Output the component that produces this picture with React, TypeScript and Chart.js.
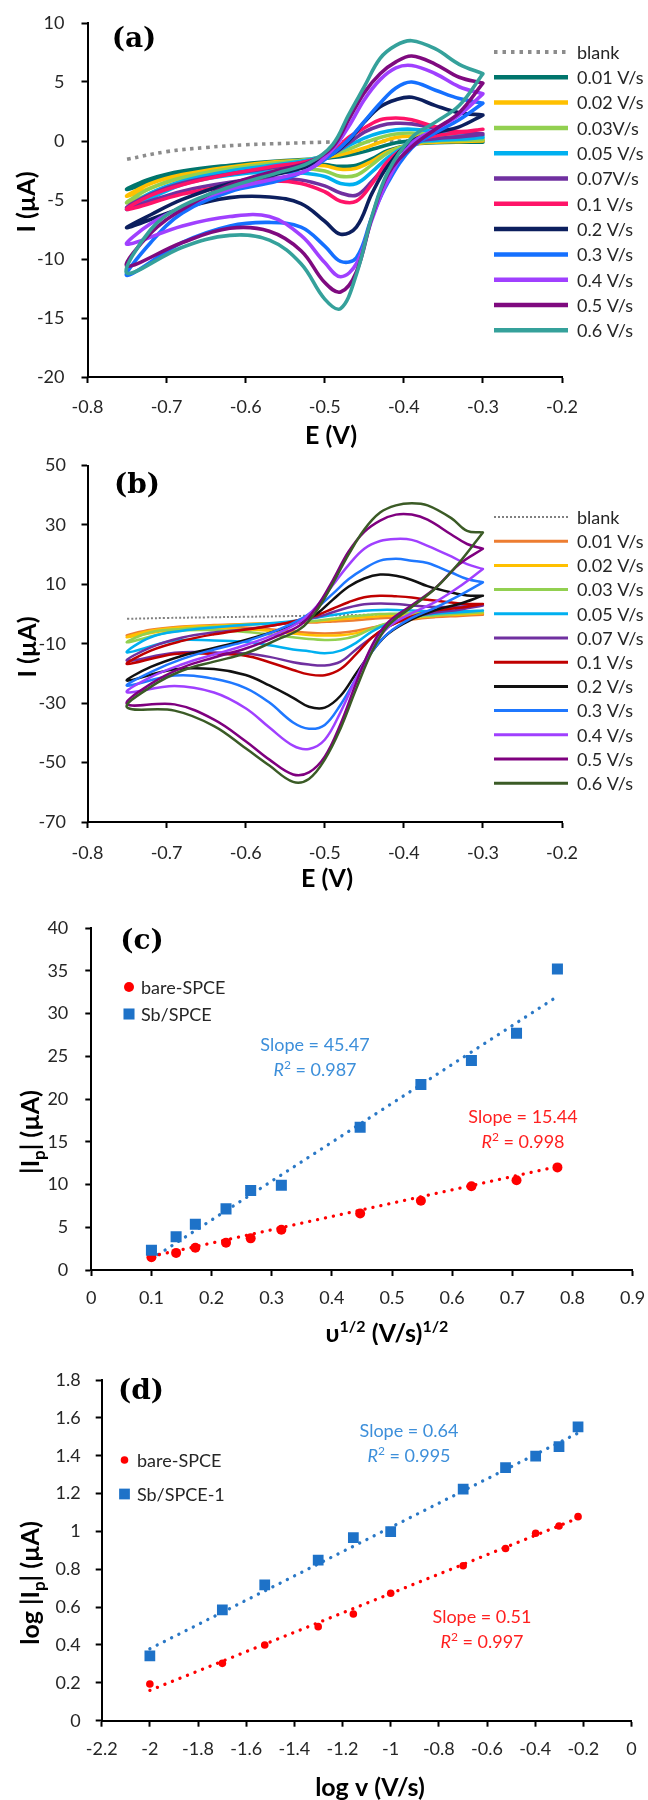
import React, { useEffect, useRef } from "react";
import { Chart, registerables } from "chart.js";

Chart.register(...registerables);

const FONT = "Lato, 'Open Sans', 'DejaVu Sans', sans-serif";
const SERIF = "'DejaVu Serif', 'Liberation Serif', serif";
const INK = "#262626";

/* ================= (a) CVs, bare-SPCE ================= */
// potential path: cathodic sweep -0.30 -> -0.75 V, then anodic sweep back to -0.30 V
const E_A = [-0.30, -0.33, -0.36, -0.39, -0.42, -0.44, -0.46, -0.48, -0.50, -0.53, -0.57, -0.62, -0.68, -0.75,
  -0.72, -0.68, -0.62, -0.56, -0.52, -0.49, -0.47, -0.45, -0.43, -0.41, -0.39, -0.36, -0.33, -0.30];
const E_BLANK = [-0.75, -0.70, -0.65, -0.60, -0.55, -0.50, -0.45, -0.40, -0.35, -0.30];
const A_BLANK = [-1.55, -0.9, -0.55, -0.32, -0.2, -0.1, -0.05, 0, 0.05, 0.1];
const A_001 = [-0.1, -0.1, -0.15, -0.3, -0.8, -1.5, -2.05, -2.15, -2.0, -1.85, -1.85, -2.2, -2.75, -4.1,
  -3.2, -2.55, -2.05, -1.7, -1.55, -1.4, -1.2, -0.9, -0.5, -0.15, 0, 0.1, 0.05, 0];
const A_002 = [0, -0.05, -0.1, -0.3, -0.9, -1.7, -2.3, -2.4, -2.1, -2.0, -2.1, -2.45, -3.1, -4.68,
  -3.6, -2.85, -2.2, -1.75, -1.6, -1.3, -1.0, -0.6, -0.1, 0.3, 0.4, 0.35, 0.2, 0.1];
const A_003 = [0.1, 0.05, 0, -0.25, -1.0, -2.0, -2.9, -3.0, -2.55, -2.3, -2.3, -2.6, -3.4, -5.24,
  -4.0, -3.1, -2.35, -1.85, -1.55, -1.1, -0.7, -0.15, 0.3, 0.6, 0.68, 0.5, 0.35, 0.25];
const A_005 = [0.3, 0.15, 0.05, -0.2, -1.4, -2.6, -3.6, -3.6, -3.0, -2.7, -2.6, -2.9, -3.7, -5.8,
  -4.4, -3.4, -2.55, -2.0, -1.6, -1.0, -0.4, 0.25, 0.7, 0.95, 1.0, 0.8, 0.55, 0.4];
const A_007 = [0.55, 0.35, 0.2, -0.2, -1.9, -3.4, -4.6, -4.4, -3.8, -3.3, -3.15, -3.5, -4.25, -5.66,
  -4.5, -3.55, -2.8, -2.2, -1.7, -1.1, -0.2, 0.75, 1.3, 1.5, 1.45, 1.1, 0.75, 0.6];
const A_010 = [1.0, 0.7, 0.45, -0.2, -1.7, -3.6, -5.1, -5.1, -4.3, -3.6, -3.4, -3.8, -4.5, -5.8,
  -4.6, -3.7, -2.8, -2.1, -1.7, -0.9, 0.3, 1.1, 1.8, 1.95, 1.8, 1.2, 0.8, 1.0];
const A_020 = [2.2, 1.2, 0.7, 0, -2.1, -4.4, -7.3, -7.9, -6.8, -5.3, -4.75, -4.8, -5.7, -7.35,
  -6.25, -4.95, -3.6, -2.8, -2.1, -1.1, 0.0, 1.6, 2.9, 3.5, 3.7, 3.0, 2.4, 2.2];
const A_030 = [3.2, 1.8, 0.7, -0.6, -3.5, -6.4, -9.9, -10.2, -8.9, -7.3, -6.9, -7.2, -8.6, -11.4,
  -8.6, -6.1, -4.3, -3.4, -2.4, -1.1, 0.1, 1.65, 3.2, 4.5, 5.0, 4.3, 3.6, 3.2];
const A_040 = [4.0, 2.2, 1.0, -0.2, -3.3, -6.6, -10.4, -11.5, -10.3, -8.0, -6.4, -6.4, -7.2, -8.75,
  -7.0, -5.6, -4.1, -3.15, -2.4, -0.7, 1.2, 3.5, 5.2, 6.2, 6.4, 5.7, 4.6, 4.0];
const A_050 = [4.9, 2.4, 1.0, -0.5, -2.8, -6.4, -11.1, -12.8, -12.0, -9.3, -7.65, -7.4, -8.6, -10.6,
  -7.8, -5.8, -3.7, -2.5, -1.8, -0.5, 1.8, 4.1, 5.7, 6.7, 7.2, 6.5, 5.4, 4.9];
const A_060 = [5.7, 3.0, 1.6, 0.3, -2.6, -6.3, -11.3, -14.2, -13.4, -10.4, -8.4, -8.0, -9.0, -11.2,
  -7.5, -5.5, -3.9, -2.7, -1.85, -0.3, 2.2, 4.6, 7.0, 8.1, 8.5, 7.8, 6.5, 5.7];
const LABELS_A = ["0.01 V/s", "0.02 V/s", "0.03V/s", "0.05 V/s", "0.07V/s", "0.1 V/s", "0.2 V/s", "0.3 V/s", "0.4 V/s", "0.5 V/s", "0.6 V/s"];
const COLORS_A = ["#00756C", "#FFC000", "#92D050", "#00B0F0", "#7030A0", "#FF1468", "#0C1F5E", "#1570FF", "#A040FF", "#7F0A7F", "#35A19B"];

/* ================= (b) CVs, Sb/SPCE ================= */
const E_B = [-0.30, -0.33, -0.36, -0.39, -0.42, -0.44, -0.46, -0.48, -0.50, -0.52, -0.54, -0.57, -0.60, -0.64, -0.69, -0.75,
  -0.72, -0.68, -0.64, -0.60, -0.56, -0.53, -0.51, -0.49, -0.47, -0.45, -0.43, -0.41, -0.39, -0.37, -0.34, -0.32, -0.30];
const B_BLANK = [-1.6, -1.3, -1.1, -0.9, -0.7, -0.45, -0.25, -0.1, 0.05, 0.2];
const B_001 = [-0.2, -0.6, -1.0, -1.8, -3.3, -4.5, -5.6, -6.3, -6.5, -6.3, -5.8, -5.1, -4.5, -4.2, -4.6, -7.2,
  -5.3, -4.2, -3.7, -3.3, -3.1, -2.9, -2.8, -2.5, -2.2, -1.8, -1.4, -1.1, -0.8, -0.6, -0.4, -0.3, -0.2];
const B_002 = [0.3, -0.2, -0.6, -1.5, -3.5, -4.9, -6.4, -7.1, -7.2, -7.0, -6.5, -5.6, -5.1, -4.8, -5.2, -7.8,
  -5.6, -4.4, -3.9, -3.4, -3.0, -2.7, -2.4, -2.0, -1.6, -1.1, -0.7, -0.4, -0.2, -0.1, 0, 0.2, 0.3];
const B_003 = [0.6, 0.2, -0.45, -1.2, -3.0, -4.8, -7.3, -8.5, -8.7, -8.4, -7.8, -6.8, -6.0, -5.4, -5.8, -9.5,
  -6.1, -5.0, -4.3, -3.6, -3.1, -2.6, -2.2, -1.6, -0.8, -0.4, 0, 0.15, 0.3, 0.35, 0.45, 0.5, 0.6];
const B_005 = [1.2, 0.6, 0.1, -0.9, -3.3, -5.8, -9.6, -12.3, -13.2, -12.5, -11.9, -10.5, -9.4, -8.9, -8.9, -12.9,
  -7.8, -5.6, -4.5, -3.6, -2.9, -2.0, -1.2, -0.3, 0.5, 1.1, 1.4, 1.4, 1.2, 1.0, 0.9, 1.0, 1.2];
const B_007 = [2.9, 1.5, 0.5, -1.1, -4.2, -7.8, -11.8, -16.0, -17.3, -17.0, -16.2, -14.4, -13.3, -12.9, -13.0, -15.7,
  -11.2, -7.9, -6.2, -5.1, -3.6, -2.2, -1.0, 0.6, 2.2, 3.3, 3.6, 3.4, 2.9, 2.5, 2.4, 2.7, 2.9];
const B_010 = [3.4, 2.1, 1.2, -0.8, -4.2, -7.8, -13.4, -18.5, -20.6, -20.3, -18.8, -16.2, -14.0, -13.4, -13.4, -16.8,
  -12.3, -9.0, -6.8, -5.2, -3.6, -1.8, -0.4, 1.8, 4.0, 5.7, 6.2, 6.0, 5.6, 4.8, 3.9, 3.4, 3.4];
const B_020 = [6.2, 3.4, 1.4, -1.8, -6.6, -12.5, -19.8, -27.5, -31.5, -31.2, -28.2, -24.0, -20.5, -18.5, -18.6, -22.4,
  -17.8, -14.0, -11.4, -8.7, -5.5, -2.5, 0.1, 4.8, 9.2, 12.0, 13.3, 12.9, 11.5, 9.4, 7.3, 6.3, 6.2];
const B_030 = [10.7, 6.2, 2.2, -1.3, -6.5, -12.6, -21.5, -30.5, -37.3, -38.6, -36.5, -29.8, -24.9, -21.8, -20.7, -24.1,
  -19.5, -15.1, -11.9, -9.2, -5.4, -1.6, 2.1, 6.8, 11.7, 15.3, 18.0, 18.6, 18.0, 17.2, 14.0, 11.8, 10.7];
const B_040 = [15.2, 9.2, 4.1, 0.3, -4.5, -11.3, -21.4, -33.0, -42.3, -45.4, -44.3, -38.2, -31.7, -26.4, -24.2, -26.3,
  -21.2, -16.9, -13.6, -10.4, -6.5, -2.3, 2.7, 9.7, 16.5, 22.0, 24.6, 25.3, 25.0, 23.0, 19.4, 16.8, 15.2];
const B_050 = [22.0, 16.8, 8.8, 3.0, -2.8, -10.4, -23.0, -37.0, -48.0, -53.3, -54.0, -49.0, -42.8, -35.5, -30.4, -30.3,
  -23.5, -18.0, -14.6, -11.6, -7.4, -3.5, 2.5, 11.3, 21.0, 27.7, 31.5, 33.5, 33.5, 31.8, 26.8, 23.6, 22.0];
const B_060 = [27.5, 17.3, 8.7, 2.4, -3.9, -12.5, -25.0, -38.5, -49.0, -55.5, -56.5, -51.0, -45.2, -37.7, -32.5, -31.4,
  -24.5, -19.0, -16.0, -13.2, -8.6, -4.8, 1.2, 10.2, 20.0, 28.5, 34.2, 36.6, 37.3, 36.6, 32.3, 28.0, 27.5];
const LABELS_B = ["0.01 V/s", "0.02 V/s", "0.03 V/s", "0.05 V/s", "0.07 V/s", "0.1 V/s", "0.2 V/s", "0.3 V/s", "0.4 V/s", "0.5 V/s", "0.6 V/s"];
const COLORS_B = ["#ED7D31", "#FFC000", "#92D050", "#00B0F0", "#7030A0", "#C00000", "#111111", "#1F78FF", "#A040FF", "#7F007F", "#3B5B26"];

/* ================= (c) |Ip| vs v^1/2 ================= */
const X_SQRT = [0.1, 0.141, 0.173, 0.224, 0.265, 0.316, 0.447, 0.548, 0.632, 0.707, 0.775];
const C_BARE = [1.5, 2.0, 2.6, 3.2, 3.7, 4.7, 6.6, 8.1, 9.8, 10.5, 12.0];
const C_SB = [2.3, 3.9, 5.35, 7.15, 9.3, 9.9, 16.7, 21.7, 24.5, 27.7, 35.2];
const C_FIT_X = [0.1, 0.775];
const C_BARE_FIT = [1.6, 12.1];
const C_SB_FIT = [1.3, 32.0];

/* ================= (d) log|Ip| vs log v ================= */
const X_LOG = [-2, -1.699, -1.523, -1.301, -1.155, -1, -0.699, -0.523, -0.398, -0.301, -0.222];
const D_BARE = [0.194, 0.303, 0.40, 0.497, 0.564, 0.673, 0.819, 0.91, 0.99, 1.029, 1.078];
const D_SB = [0.342, 0.585, 0.717, 0.849, 0.967, 0.999, 1.224, 1.337, 1.398, 1.448, 1.553];
const D_FIT_X = [-2, -0.222];
const D_BARE_FIT = [0.16, 1.07];
const D_SB_FIT = [0.38, 1.52];

const RED = "#FF0000";
const RED_TXT = "#FF2020";
const BLUE = "#1E72C8";
const BLUE_LINE = "#2A78C6";
const BLUE_TXT = "#3D8FDA";

/* ================= helpers ================= */
type Seg = { t: string; size: number; bold?: boolean; italic?: boolean; dy?: number };
const fontOf = (s: Seg) => `${s.italic ? "italic " : ""}${s.bold ? "bold " : ""}${s.size}px ${FONT}`;

function drawRich(ctx: CanvasRenderingContext2D, segs: Seg[], cx: number, cy: number, rotate = false, color = "#000") {
  ctx.save();
  ctx.translate(cx, cy);
  if (rotate) ctx.rotate(-Math.PI / 2);
  ctx.fillStyle = color;
  ctx.textAlign = "left";
  ctx.textBaseline = "alphabetic";
  let total = 0;
  segs.forEach((s) => { ctx.font = fontOf(s); total += ctx.measureText(s.t).width; });
  let x = -total / 2;
  const base = segs[0].size * 0.36;
  segs.forEach((s) => {
    ctx.font = fontOf(s);
    ctx.fillText(s.t, x, base + (s.dy || 0));
    x += ctx.measureText(s.t).width;
  });
  ctx.restore();
}

const pts = (xs: number[], ys: number[]) => ys.map((y, i) => ({ x: xs[i], y }));
const fmt = (v: number) => { const r = Math.round(v * 10) / 10; return r === 0 ? "0" : String(r); };

function xAxis(min: number, max: number, step: number, h: number, pad: number) {
  return {
    type: "linear", position: "bottom", min, max,
    ticks: { stepSize: step, autoSkip: false, maxRotation: 0, minRotation: 0, padding: pad, color: INK, font: { family: FONT, size: 18 }, callback: fmt },
    grid: { drawOnChartArea: false, drawTicks: true, tickLength: 6, tickWidth: 2, tickColor: "#000" },
    border: { color: "#000", width: 2 },
    afterFit: (s: any) => { s.height = h; s.paddingLeft = 0; s.paddingRight = 0; s.paddingTop = 0; s.paddingBottom = 0; },
  };
}
function yAxis(min: number, max: number, step: number, w: number, pad: number) {
  return {
    type: "linear", position: "left", min, max,
    ticks: { stepSize: step, padding: pad, color: INK, font: { family: FONT, size: 18 }, callback: fmt },
    grid: { drawOnChartArea: false, drawTicks: true, tickLength: 6, tickWidth: 2, tickColor: "#000" },
    border: { color: "#000", width: 2 },
    afterFit: (s: any) => { s.width = w; s.paddingLeft = 0; s.paddingRight = 0; s.paddingTop = 0; s.paddingBottom = 0; },
  };
}

type Area = { left: number; top: number; right: number; bottom: number; h: number };

function baseOptions(area: Area, x: any, y: any) {
  return {
    responsive: false,
    animation: false,
    events: [],
    layout: { padding: { left: 0, top: area.top, right: 648 - area.right, bottom: 0 } },
    plugins: { legend: { display: false }, tooltip: { enabled: false } },
    scales: { x, y },
  };
}

function drawTag(ctx: CanvasRenderingContext2D, tag: string, x: number, y: number) {
  ctx.save();
  ctx.fillStyle = "#000";
  ctx.font = `bold 28px ${SERIF}`;
  ctx.textAlign = "center";
  ctx.textBaseline = "middle";
  ctx.fillText(tag, x, y);
  ctx.restore();
}

/* ================= CV panel config ================= */
function cvConfig(p: any) {
  const area: Area = p.area;
  const datasets: any[] = [
    {
      data: pts(E_BLANK, p.blank), borderColor: p.blankColor, borderWidth: p.blankW, borderDash: p.blankDash,
      borderCapStyle: "butt", pointRadius: 0, tension: 0.4, order: 100,
    },
    ...p.series.map((s: number[], i: number) => ({
      data: pts(p.E, s), borderColor: p.colors[i], borderWidth: p.lw, pointRadius: 0, tension: 0.38,
      borderJoinStyle: "round", borderCapStyle: "round", order: p.series.length - i,
    })),
  ];
  const decor = {
    id: "cvDecor",
    afterDraw(chart: any) {
      const ctx: CanvasRenderingContext2D = chart.ctx;
      drawTag(ctx, p.tag, p.tagX, p.tagY);
      const items = [{ label: "blank", color: p.blankColor, dash: p.legBlankDash, w: p.legBlankW },
        ...p.labels.map((l: string, i: number) => ({ label: l, color: p.colors[i], dash: [], w: p.legW }))];
      ctx.save();
      items.forEach((it: any, k: number) => {
        const yy = p.legY0 + k * p.legDy;
        ctx.beginPath();
        ctx.setLineDash(it.dash);
        ctx.lineWidth = it.w;
        ctx.lineCap = "butt";
        ctx.strokeStyle = it.color;
        ctx.moveTo(p.legX1, yy);
        ctx.lineTo(p.legX2, yy);
        ctx.stroke();
        ctx.setLineDash([]);
        ctx.fillStyle = INK;
        ctx.font = `18px ${FONT}`;
        ctx.textAlign = "left";
        ctx.textBaseline = "middle";
        ctx.fillText(it.label, p.legXt, yy + 1);
      });
      ctx.restore();
      drawRich(ctx, p.xTitle, p.xTitleX, p.xTitleY);
      drawRich(ctx, p.yTitle, p.yTitleX, p.yTitleY, true);
    },
  };
  return {
    type: "line",
    data: { datasets },
    options: baseOptions(area, xAxis(-0.8, -0.2, 0.1, area.h - area.bottom, p.xPad), yAxis(p.yMin, p.yMax, p.yStep, area.left, p.yPad)),
    plugins: [decor],
  };
}

/* ================= scatter panel config ================= */
function fitConfig(p: any) {
  const area: Area = p.area;
  const datasets: any[] = [
    { data: pts(p.fitX, p.sbFit), borderColor: BLUE_LINE, borderWidth: 3.3, borderDash: [0.1, 8], borderCapStyle: "round", pointRadius: 0, order: 3 },
    { data: pts(p.fitX, p.bareFit), borderColor: RED, borderWidth: 3.3, borderDash: [0.1, 8], borderCapStyle: "round", pointRadius: 0, order: 2 },
    { data: pts(p.x, p.bare), showLine: false, pointStyle: "circle", pointRadius: p.circleR, backgroundColor: RED, borderColor: RED, borderWidth: 0, order: 1 },
    { data: pts(p.x, p.sb), showLine: false, pointStyle: "rect", pointRadius: p.rectR, backgroundColor: BLUE, borderColor: BLUE, borderWidth: 0, order: 0 },
  ];
  const decor = {
    id: "fitDecor",
    afterDraw(chart: any) {
      const ctx: CanvasRenderingContext2D = chart.ctx;
      drawTag(ctx, p.tag, p.tagX, p.tagY);
      ctx.save();
      ctx.fillStyle = RED;
      ctx.beginPath();
      ctx.arc(p.legX, p.legY1, p.circleR, 0, Math.PI * 2);
      ctx.fill();
      ctx.fillStyle = BLUE;
      const hs = p.rectR * Math.SQRT1_2;
      ctx.fillRect(p.legX - hs, p.legY2 - hs, hs * 2, hs * 2);
      ctx.fillStyle = INK;
      ctx.font = `18px ${FONT}`;
      ctx.textAlign = "left";
      ctx.textBaseline = "middle";
      ctx.fillText("bare-SPCE", p.legXt, p.legY1 + 1);
      ctx.fillText(p.sbLabel, p.legXt, p.legY2 + 1);
      ctx.restore();
      const ann = (slope: string, r2: string, x: number, y: number, c: string) => {
        drawRich(ctx, [{ t: "Slope = " + slope, size: 18 }], x, y, false, c);
        drawRich(ctx, [{ t: "R", size: 18, italic: true }, { t: "2", size: 12, dy: -7 }, { t: " = " + r2, size: 18 }], x, y + 25, false, c);
      };
      ann(p.sbSlope, p.sbR2, p.sbAnnX, p.sbAnnY, BLUE_TXT);
      ann(p.bareSlope, p.bareR2, p.bareAnnX, p.bareAnnY, RED_TXT);
      drawRich(ctx, p.xTitle, p.xTitleX, p.xTitleY);
      drawRich(ctx, p.yTitle, p.yTitleX, p.yTitleY, true);
    },
  };
  return {
    type: "line",
    data: { datasets },
    options: baseOptions(area, xAxis(p.xMin, p.xMax, p.xStep, area.h - area.bottom, p.xPad), yAxis(p.yMin, p.yMax, p.yStep, area.left, p.yPad)),
    plugins: [decor],
  };
}

/* ================= panel component ================= */
function Panel({ top, height, make }: { top: number; height: number; make: () => any }) {
  const ref = useRef<HTMLCanvasElement>(null);
  useEffect(() => {
    const chart = new Chart(ref.current as HTMLCanvasElement, make());
    return () => chart.destroy();
  }, []);
  return (
    <div style={{ position: "absolute", left: 0, top, width: 648, height }}>
      <canvas ref={ref} width={648} height={height} style={{ width: 648, height, display: "block" }} />
    </div>
  );
}

const T = (t: string, extra: Partial<Seg> = {}): Seg => ({ t, size: 25, bold: true, ...extra });

const makeA = () => cvConfig({
  area: { left: 87.5, top: 23, right: 562, bottom: 377, h: 450 },
  E: E_A, blank: A_BLANK,
  series: [A_001, A_002, A_003, A_005, A_007, A_010, A_020, A_030, A_040, A_050, A_060],
  colors: COLORS_A, labels: LABELS_A,
  lw: 3.6, blankColor: "#8C8C8C", blankW: 3.6, blankDash: [3.5, 4.5],
  legBlankDash: [3.5, 5], legBlankW: 4, legW: 4.5,
  legX1: 494, legX2: 568, legXt: 577, legY0: 52, legDy: 25.3,
  yMin: -20, yMax: 10, yStep: 5, xPad: 13, yPad: 17,
  tag: "(a)", tagX: 134, tagY: 40,
  xTitle: [T("E (V)")], xTitleX: 331, xTitleY: 435,
  yTitle: [T("I (µA)")], yTitleX: 26, yTitleY: 202,
});

const makeB = () => cvConfig({
  area: { left: 87.5, top: 15.6, right: 562, bottom: 372, h: 445 },
  E: E_B, blank: B_BLANK,
  series: [B_001, B_002, B_003, B_005, B_007, B_010, B_020, B_030, B_040, B_050, B_060],
  colors: COLORS_B, labels: LABELS_B,
  lw: 2.5, blankColor: "#808080", blankW: 2, blankDash: [2, 2],
  legBlankDash: [2, 2], legBlankW: 2, legW: 3,
  legX1: 494, legX2: 568, legXt: 577, legY0: 67, legDy: 24.2,
  yMin: -70, yMax: 50, yStep: 20, xPad: 14, yPad: 15.5,
  tag: "(b)", tagX: 137, tagY: 36,
  xTitle: [T("E (V)")], xTitleX: 327, xTitleY: 428,
  yTitle: [T("I (µA)")], yTitleX: 27, yTitleY: 197,
});

const makeC = () => fitConfig({
  area: { left: 91.3, top: 33, right: 632.6, bottom: 375, h: 450 },
  x: X_SQRT, bare: C_BARE, sb: C_SB, fitX: C_FIT_X, bareFit: C_BARE_FIT, sbFit: C_SB_FIT,
  circleR: 5, rectR: 7.8,
  xMin: 0, xMax: 0.9, xStep: 0.1, yMin: 0, yMax: 40, yStep: 5, xPad: 11, yPad: 17,
  tag: "(c)", tagX: 142, tagY: 47,
  legX: 129, legY1: 92, legY2: 119, legXt: 141, sbLabel: "Sb/SPCE",
  sbSlope: "45.47", sbR2: "0.987", sbAnnX: 315, sbAnnY: 150,
  bareSlope: "15.44", bareR2: "0.998", bareAnnX: 523, bareAnnY: 222,
  xTitle: [T("υ"), T("1/2", { size: 16, dy: -10 }), T(" (V/s)"), T("1/2", { size: 16, dy: -10 })], xTitleX: 387, xTitleY: 438,
  yTitle: [T("|I"), T("p", { size: 17, dy: 6 }), T("| (µA)")], yTitleX: 30, yTitleY: 237,
});

const makeD = () => fitConfig({
  area: { left: 101.7, top: 35, right: 631.5, bottom: 375.7, h: 455 },
  x: X_LOG, bare: D_BARE, sb: D_SB, fitX: D_FIT_X, bareFit: D_BARE_FIT, sbFit: D_SB_FIT,
  circleR: 3.8, rectR: 7.6,
  xMin: -2.2, xMax: 0, xStep: 0.2, yMin: 0, yMax: 1.8, yStep: 0.2, xPad: 12, yPad: 15,
  tag: "(d)", tagX: 141, tagY: 47,
  legX: 124.5, legY1: 115, legY2: 149, legXt: 137, sbLabel: "Sb/SPCE-1",
  sbSlope: "0.64", sbR2: "0.995", sbAnnX: 409, sbAnnY: 86,
  bareSlope: "0.51", bareR2: "0.997", bareAnnX: 482, bareAnnY: 272,
  xTitle: [T("log v (V/s)")], xTitleX: 370, xTitleY: 442,
  yTitle: [T("log |I"), T("p", { size: 17, dy: 6 }), T("| (µA)")], yTitleX: 30, yTitleY: 238,
});

export default function App() {
  return (
    <div style={{ position: "absolute", left: 0, top: 0, width: 648, height: 1800, background: "#fff" }}>
      <Panel top={0} height={450} make={makeA} />
      <Panel top={450} height={445} make={makeB} />
      <Panel top={895} height={450} make={makeC} />
      <Panel top={1345} height={455} make={makeD} />
    </div>
  );
}
